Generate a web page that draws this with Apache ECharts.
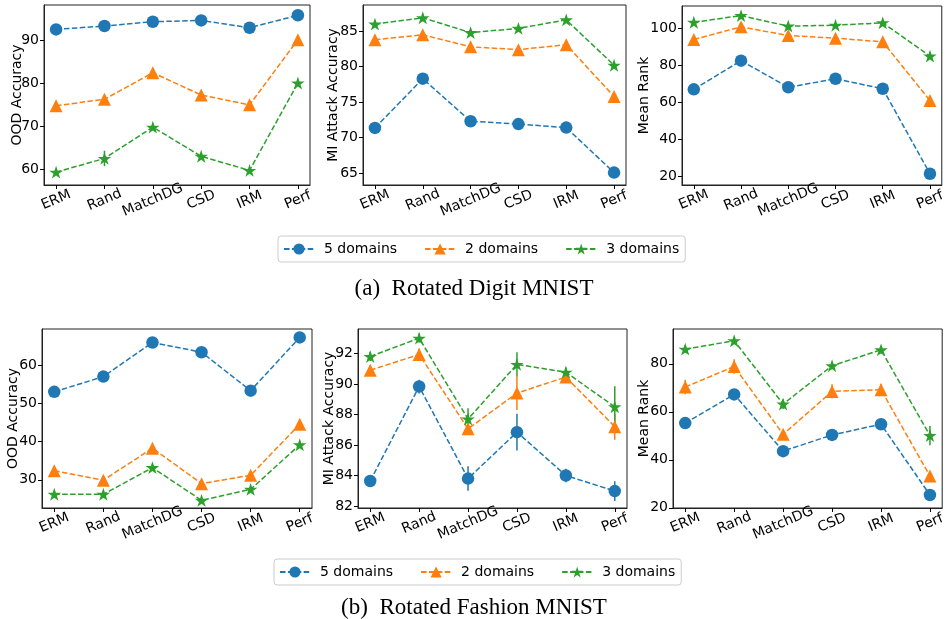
<!DOCTYPE html>
<html>
<head>
<meta charset="utf-8">
<script src="https://cdn.jsdelivr.net/npm/echarts@6/dist/echarts.min.js"></script>
<style>
  html, body { margin: 0; padding: 0; background: #fff; }
  #chart { width: 948px; height: 619px; }
</style>
</head>
<body>
<div id="chart"></div>
<script>
// categories and legend names
const methods = ['ERM', 'Rand', 'MatchDG', 'CSD', 'IRM', 'Perf']
const domainNames = ['5 domains', '2 domains', '3 domains']

// (a) Rotated Digit MNIST
const digitOodFive = [92.6, 93.4, 94.4, 94.7, 93.0, 95.9]
const digitOodTwo = [74.8, 76.3, 82.5, 77.3, 75.0, 90.2]
const digitOodThree = [59.3, 62.5, 69.8, 63.0, 59.7, 80.1]
const digitOodErrFive = [0.3, 0.3, 0.3, 0.3, 0.3, 0.3]
const digitOodErrTwo = [0.5, 0.8, 0.6, 0.5, 0.5, 0.5]
const digitOodErrThree = [0.5, 1.8, 0.6, 0.5, 0.5, 0.6]
const digitOodTicks = [60, 70, 80, 90]

const digitMiFive = [71.35, 78.3, 72.3, 71.9, 71.4, 65.05]
const digitMiTwo = [83.8, 84.5, 82.8, 82.4, 83.1, 75.8]
const digitMiThree = [86.0, 86.9, 84.8, 85.4, 86.6, 80.2]
const digitMiErrFive = [0.3, 0.4, 0.3, 0.3, 0.3, 0.3]
const digitMiErrTwo = [0.3, 0.3, 0.3, 0.3, 0.3, 0.4]
const digitMiErrThree = [0.3, 0.3, 0.3, 0.3, 0.3, 0.4]
const digitMiTicks = [65, 70, 75, 80, 85]

const digitRankFive = [67.1, 82.6, 68.2, 72.8, 67.4, 21.4]
const digitRankTwo = [94.1, 100.9, 96.2, 94.8, 92.8, 61.0]
const digitRankThree = [103.4, 107.0, 101.3, 101.8, 103.1, 85.1]
const digitRankErrFive = [1, 1, 1, 1, 1, 1]
const digitRankErrTwo = [1, 1.5, 1, 1, 1, 1]
const digitRankErrThree = [1, 1, 1, 1, 1, 1]
const digitRankTicks = [20, 40, 60, 80, 100]

// (b) Rotated Fashion MNIST
const fashionOodFive = [53.1, 57.1, 66.05, 63.5, 53.4, 67.4]
const fashionOodTwo = [32.4, 29.9, 38.3, 29.0, 31.2, 44.6]
const fashionOodThree = [26.2, 26.2, 33.2, 24.6, 27.5, 39.2]
const fashionOodErrFive = [0.4, 0.4, 0.4, 0.4, 0.4, 0.4]
const fashionOodErrTwo = [0.5, 0.5, 0.5, 0.5, 0.5, 0.8]
const fashionOodErrThree = [0.4, 0.4, 0.5, 0.4, 0.4, 0.5]
const fashionOodTicks = [30, 40, 50, 60]

const fashionMiFive = [83.64, 89.83, 83.8, 86.84, 84.0, 82.98]
const fashionMiTwo = [90.9, 91.93, 87.06, 89.4, 90.45, 87.2]
const fashionMiThree = [91.8, 93.0, 87.7, 91.28, 90.77, 88.5]
const fashionMiErrFive = [0.4, 0.45, 0.8, 1.2, 0.45, 0.65]
const fashionMiErrTwo = [0.3, 0.4, 0.3, 1.1, 0.3, 0.85]
const fashionMiErrThree = [0.3, 0.3, 0.7, 0.8, 0.3, 1.35]
const fashionMiTicks = [82, 84, 86, 88, 90, 92]

const fashionRankFive = [55.3, 67.25, 43.6, 50.35, 54.8, 25.3]
const fashionRankTwo = [70.3, 78.9, 50.6, 68.5, 69.2, 33.2]
const fashionRankThree = [86.1, 89.6, 63.2, 79.2, 85.8, 50.1]
const fashionRankErrFive = [1, 1, 1, 1, 1, 1]
const fashionRankErrTwo = [3, 3, 1, 3, 2.5, 1]
const fashionRankErrThree = [1.5, 1, 2, 1.5, 1.5, 4]
const fashionRankTicks = [20, 40, 60, 80]

const colors = ['#1f77b4', '#ff7f0e', '#2ca02c']
const starPath = 'path://M50 0L61.23 34.55L97.55 34.55L68.17 55.9L79.39 90.45L50 69.1L20.61 90.45L31.83 55.9L2.45 34.55L38.77 34.55Z'
const symbols = ['circle', 'triangle', starPath]
const symbolSizes = [12.5, 13, 13.5]

const panels = [
  {grid: {left: 44, top: 5, width: 266, height: 180}, name: 'OOD Accuracy', gap: 20, min: 56.3, max: 98.3,
    ticks: digitOodTicks, vals: [digitOodFive, digitOodTwo, digitOodThree], errs: [digitOodErrFive, digitOodErrTwo, digitOodErrThree]},
  {grid: {left: 363, top: 5, width: 263, height: 180}, name: 'MI Attack Accuracy', gap: 23, min: 63.3, max: 88.7,
    ticks: digitMiTicks, vals: [digitMiFive, digitMiTwo, digitMiThree], errs: [digitMiErrFive, digitMiErrTwo, digitMiErrThree]},
  {grid: {left: 682, top: 6, width: 264, height: 179}, name: 'Mean Rank', gap: 31, min: 15.3, max: 112.2,
    ticks: digitRankTicks, vals: [digitRankFive, digitRankTwo, digitRankThree], errs: [digitRankErrFive, digitRankErrTwo, digitRankErrThree]},
  {grid: {left: 42, top: 329, width: 270, height: 179}, name: 'OOD Accuracy', gap: 22, min: 22.6, max: 69.6,
    ticks: fashionOodTicks, vals: [fashionOodFive, fashionOodTwo, fashionOodThree], errs: [fashionOodErrFive, fashionOodErrTwo, fashionOodErrThree]},
  {grid: {left: 358, top: 329, width: 269, height: 179}, name: 'MI Attack Accuracy', gap: 22, min: 81.87, max: 93.6,
    ticks: fashionMiTicks, vals: [fashionMiFive, fashionMiTwo, fashionMiThree], errs: [fashionMiErrFive, fashionMiErrTwo, fashionMiErrThree]},
  {grid: {left: 673, top: 329, width: 270, height: 179}, name: 'Mean Rank', gap: 22, min: 19.9, max: 94.5,
    ticks: fashionRankTicks, vals: [fashionRankFive, fashionRankTwo, fashionRankThree], errs: [fashionRankErrFive, fashionRankErrTwo, fashionRankErrThree]}
]

const font = 'DejaVu Sans'
const idx = methods.map((m, i) => i)

const grids = []
const xAxes = []
const yAxes = []
const series = []

panels.forEach((p, i) => {
  grids.push(Object.assign({show: true, borderColor: '#222', borderWidth: 1, backgroundColor: 'transparent'}, p.grid))
  xAxes.push({
    type: 'value', gridIndex: i, min: -0.25, max: 5.25,
    splitLine: {show: false},
    axisLine: {show: true, onZero: false, lineStyle: {color: '#222', width: 1}},
    axisTick: {show: true, customValues: idx, length: 4, lineStyle: {color: '#000'}},
    axisLabel: {
      customValues: idx, formatter: v => methods[Math.round(v)],
      rotate: 23, align: 'center', verticalAlign: 'middle', margin: 15,
      color: '#000', fontFamily: font, fontSize: 14
    }
  })
  yAxes.push({
    type: 'value', gridIndex: i, min: p.min, max: p.max,
    name: p.name, nameLocation: 'middle', nameGap: p.gap, nameMoveOverlap: false,
    nameTextStyle: {color: '#000', fontFamily: font, fontSize: 14},
    splitLine: {show: false},
    axisLine: {show: true, onZero: false, lineStyle: {color: '#222', width: 1}},
    axisTick: {show: true, customValues: p.ticks, length: 4, lineStyle: {color: '#000'}},
    axisLabel: {customValues: p.ticks, margin: 5, color: '#000', fontFamily: font, fontSize: 14}
  })
  p.vals.forEach((vals, k) => {
    series.push({
      name: 'err' + k, type: 'custom', xAxisIndex: i, yAxisIndex: i, z: 2, silent: true,
      data: vals.map((v, j) => [j, v, p.errs[k][j]]),
      renderItem: (params, api) => {
        const a = api.coord([api.value(0), api.value(1) - api.value(2)])
        const b = api.coord([api.value(0), api.value(1) + api.value(2)])
        return {type: 'line', shape: {x1: a[0], y1: a[1], x2: b[0], y2: b[1]},
          style: {stroke: colors[k], lineWidth: 1.5}}
      }
    })
    series.push({
      name: domainNames[k], type: 'line', xAxisIndex: i, yAxisIndex: i, z: 3 + k,
      data: vals.map((v, j) => [j, v]),
      symbol: symbols[k], symbolSize: symbolSizes[k], symbolKeepAspect: true,
      showAllSymbol: true,
      itemStyle: {color: colors[k], opacity: 1},
      lineStyle: {color: colors[k], width: 1.5, type: [5.5, 2.4]},
      emphasis: {disabled: true}
    })
  })
})

const legendBase = {
  data: domainNames, orient: 'horizontal',
  itemWidth: 30, itemHeight: 14, itemGap: 27,
  padding: [6, 6, 6, 5],
  borderColor: '#ccc', borderWidth: 1, borderRadius: 3,
  textStyle: {color: '#000', fontFamily: font, fontSize: 14, padding: [0, 0, 0, 5]},
  selectedMode: false
}

const captionFont = '23px "Liberation Serif"'

const option = {
  animation: false,
  backgroundColor: '#fff',
  grid: grids,
  xAxis: xAxes,
  yAxis: yAxes,
  legend: [
    Object.assign({left: 278, top: 236}, legendBase),
    Object.assign({left: 274, top: 559}, legendBase)
  ],
  graphic: [
    {type: 'text', left: 'center', top: 277, style: {text: '(a)  Rotated Digit MNIST', font: captionFont, fill: '#000'}},
    {type: 'text', left: 'center', top: 596, style: {text: '(b)  Rotated Fashion MNIST', font: captionFont, fill: '#000'}}
  ],
  series: series
}

const chart = echarts.init(document.getElementById('chart'))
chart.setOption(option)
</script>
</body>
</html>
